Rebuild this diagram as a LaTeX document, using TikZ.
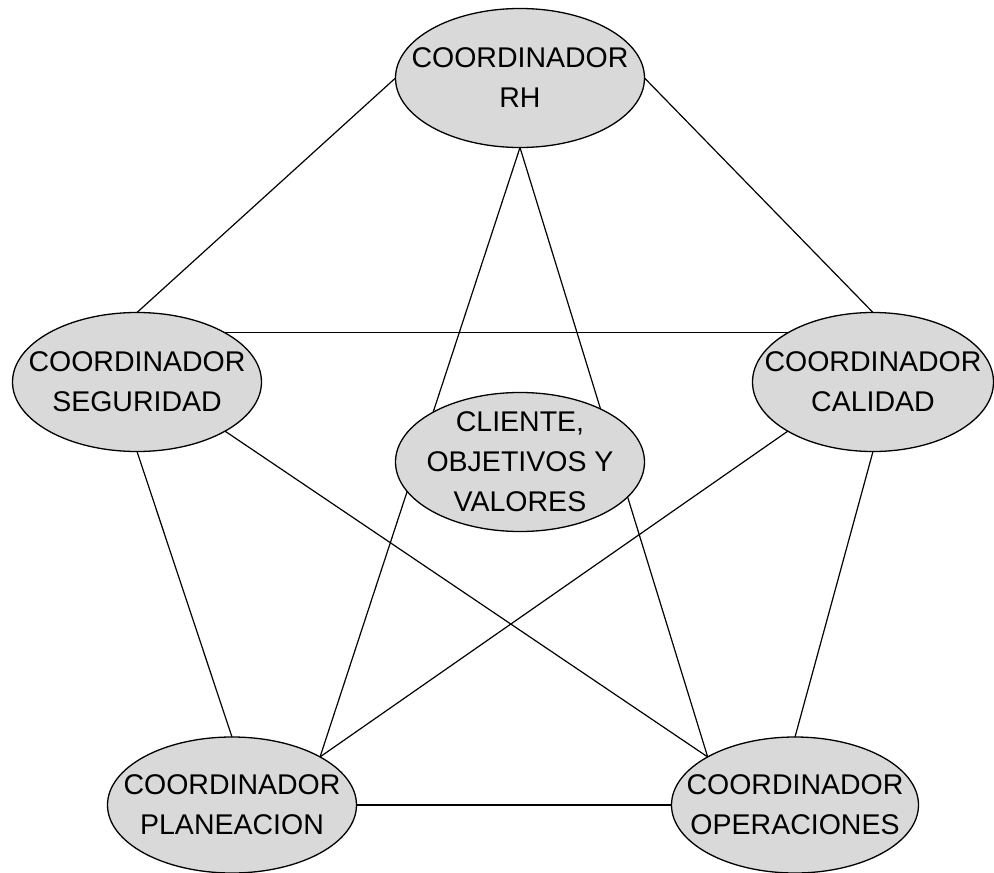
\documentclass[tikz,border=0pt]{standalone}
\usepackage{fontspec}
\setmainfont{Liberation Sans}
\usetikzlibrary{shapes.geometric}
\definecolor{ellfill}{RGB}{217,217,217}
\tikzset{
  ell/.style={ellipse, draw=black, line width=1.3pt, fill=ellfill, inner sep=0pt, outer sep=0pt,
              minimum width=249pt, minimum height=139pt},
  lbl/.style={align=center, font=\fontsize{28.5pt}{40pt}\selectfont, inner sep=0pt},
  conn/.style={draw=black, line width=1.2pt}
}
\begin{document}
\begin{tikzpicture}[x=1pt, y=-1pt]
\useasboundingbox (0,0) rectangle (994,873);
% outer nodes
\node[ell] (rh) at (520,78) {};
\node[lbl] at (rh) {COORDINADOR\\RH};
\node[ell] (seg) at (137,382) {};
\node[lbl] at (seg) {COORDINADOR\\SEGURIDAD};
\node[ell, minimum width=241pt] (cal) at (873,382) {};
\node[lbl] at (cal) {COORDINADOR\\CALIDAD};
\node[ell, minimum height=136pt] (plan) at (232,805) {};
\node[lbl] at (plan) {COORDINADOR\\PLANEACION};
\node[ell, minimum width=247pt, minimum height=136pt] (ope) at (795,805) {};
\node[lbl] at (ope) {COORDINADOR\\OPERACIONES};
% connectors
\draw[conn] (rh.west) -- (seg.north);
\draw[conn] (rh.east) -- (cal.north);
\draw[conn] (rh.south) -- (plan.north east);
\draw[conn] (rh.south) -- (ope.north west);
\draw[conn] (seg.north east) -- (cal.north west);
\draw[conn] (seg.south east) -- (ope.north west);
\draw[conn] (seg.south) -- (plan.north);
\draw[conn] (cal.south west) -- (plan.north east);
\draw[conn] (cal.south) -- (ope.north);
\draw[conn] (plan.east) -- (ope.west);
% center node on top of connectors
\node[ell] (cli) at (520,462) {};
\node[lbl] at (cli) {CLIENTE,\\OBJETIVOS Y\\VALORES};
\end{tikzpicture}
\end{document}
